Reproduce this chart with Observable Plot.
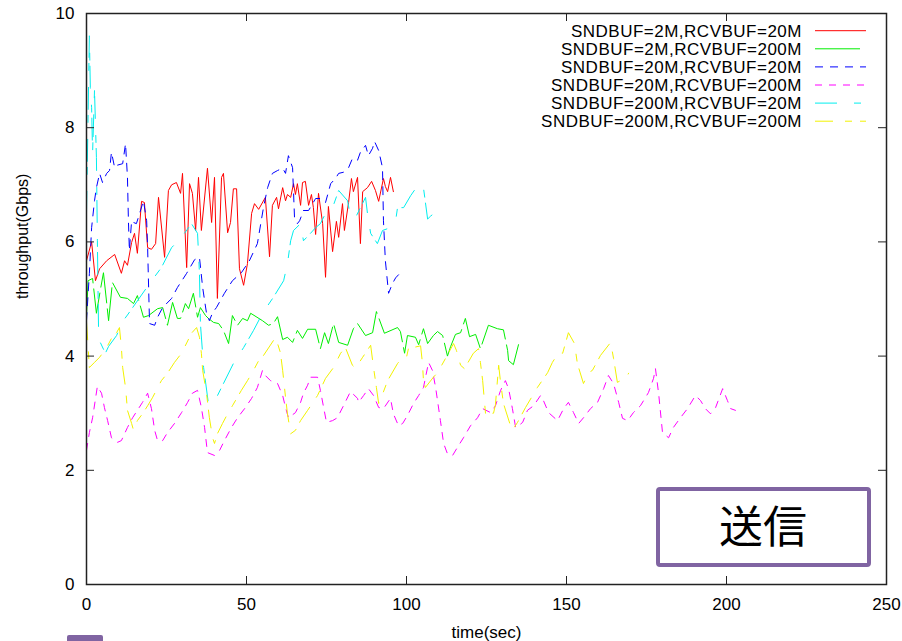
<!DOCTYPE html>
<html><head><meta charset="utf-8">
<script src="https://cdn.jsdelivr.net/npm/d3@7"></script>
<script src="https://cdn.jsdelivr.net/npm/@observablehq/plot@0.6"></script>
<style>
body{margin:0;background:#fff}
#wrap{position:relative;width:902px;height:641px;overflow:hidden;background:#fff}
</style></head><body><div id="wrap"></div>
<script>
const xTicks = [0, 50, 100, 150, 200, 250];
const yTicks = [0, 2, 4, 6, 8, 10];
const seriesNames = [
  "SNDBUF=2M,RCVBUF=20M",
  "SNDBUF=2M,RCVBUF=200M",
  "SNDBUF=20M,RCVBUF=20M",
  "SNDBUF=20M,RCVBUF=200M",
  "SNDBUF=200M,RCVBUF=20M",
  "SNDBUF=200M,RCVBUF=200M"
];
const seriesColors = ["#ff0000", "#00ee00", "#0000ff", "#ff00ff", "#00eeee", "#f2f200"];
const seriesDash = [null, "45,6", "8,7", "7,7", "22,17,7,6", "18,12,7,8"];
const boxLabel = "送信";

// [time(sec), throughput(Gbps)]
const red = [[0,5.67],[1.6,6.0],[2.8,5.32],[4.1,5.53],[6.3,5.67],[8.8,5.78],[10.9,5.45],[11.9,5.67],[12.8,5.59],[14.1,5.99],[15,6.15],[15.9,5.8],[17.2,6.71],[18.1,6.69],[19.1,5.9],[20.3,5.87],[21.6,5.97],[22.5,6.78],[24.4,5.73],[25.6,6.9],[26.6,7.0],[28.1,7.04],[29.4,6.85],[30,7.2],[31.3,5.55],[32.2,7.02],[33.1,6.85],[34.1,6.2],[35,7.13],[35.9,6.2],[37.8,7.29],[39.1,6.34],[40,7.13],[40.9,5.01],[42.2,7.13],[42.8,7.2],[44.1,6.16],[45,6.34],[45.9,6.93],[46.9,6.93],[47.8,5.53],[49.1,5.24],[50.3,5.62],[51.6,6.5],[52.5,6.67],[53.8,6.57],[55.9,6.78],[57.2,5.74],[58.1,6.64],[59.4,6.78],[60,6.58],[61.3,6.95],[62.2,6.72],[62.8,6.83],[63.8,6.78],[64.7,7.02],[65.3,6.83],[65.9,7.02],[66.9,6.64],[67.5,7.04],[68.4,7.06],[69.4,6.64],[70.3,6.83],[70.9,6.6],[71.6,6.13],[72.5,6.85],[73.8,6.32],[74.7,5.38],[75.6,6.62],[76.9,5.83],[78.1,6.36],[78.8,6.08],[80,6.67],[80.6,6.2],[81.9,6.69],[82.8,7.11],[83.4,6.88],[84.7,7.13],[85.6,5.97],[86.3,6.88],[87.8,6.95],[89.1,7.06],[90.3,6.9],[91.3,6.71],[92.8,7.11],[93.4,6.97],[94.1,6.88],[95,7.13],[95.9,6.88]];
const green = [[0,4.7],[0.5,5.32],[1.9,5.36],[3.1,4.75],[4.4,5.18],[5.3,5.46],[6.9,4.62],[8.1,5.29],[10.6,5.03],[12.8,5.01],[14.7,4.92],[15.9,5.06],[17.8,4.68],[19.4,4.71],[22.2,4.83],[23.8,4.85],[25.3,4.54],[26.9,4.94],[28.4,4.66],[29.4,4.66],[30.9,4.92],[31.9,4.83],[33.4,5.1],[34.7,4.68],[35.6,4.85],[37.2,4.71],[38.1,4.66],[39.7,4.59],[41.3,4.57],[42.8,4.45],[44.4,4.22],[45.6,4.71],[47.2,4.54],[48.8,4.66],[50.3,4.62],[51.3,4.75],[55,4.62],[56.9,4.54],[58.4,4.57],[59.7,4.69],[61.3,4.29],[62.8,4.33],[64.4,4.24],[65.9,4.45],[67.5,4.31],[69.1,4.47],[71.6,4.47],[73.1,4.13],[74.4,4.41],[75.6,4.22],[77.2,4.57],[78.8,4.24],[81.6,4.19],[83.4,4.48],[84.7,4.57],[87.2,4.36],[89.4,4.41],[90.6,4.78],[93.1,4.4],[97.2,4.5],[98.1,4.43],[99.4,4.05],[100.3,4.36],[102.8,4.33],[103.8,4.2],[105.3,4.48],[106.6,4.22],[108.4,4.36],[109.7,4.43],[111.3,4.36],[112.8,4.0],[113.8,4.17],[115.3,4.38],[116.9,4.41],[118.4,4.66],[119.7,4.34],[121.6,4.38],[123.1,4.13],[125.6,4.54],[128.4,4.48],[130.3,4.46],[131.6,4.1],[131.9,3.92],[133.4,3.85],[135,4.2]];
const blue = [[0,4.62],[0.9,5.45],[1.6,6.25],[2.5,6.72],[3.1,6.95],[4.1,7.2],[5,7.04],[6.3,7.2],[7.2,7.25],[7.8,7.57],[8.8,7.3],[9.4,7.34],[11.3,7.37],[12.2,7.72],[12.8,7.13],[13.1,6.37],[13.4,5.85],[14.1,6.37],[14.7,6.34],[15.6,6.32],[16.6,6.5],[17.8,6.72],[18.8,6.37],[19.1,5.9],[19.7,4.57],[21.3,4.54],[22.2,4.68],[23.8,4.85],[26.6,5.01],[28.4,5.2],[31.3,5.45],[33.8,5.69],[35.3,5.73],[36.3,5.2],[37.5,4.75],[38.4,4.62],[39.4,4.76],[40.6,4.85],[43.1,5.1],[45.6,5.32],[48.4,5.46],[50.9,5.67],[53.4,5.97],[55.3,6.6],[56.6,6.95],[58.1,7.2],[59.7,7.25],[61.3,7.29],[62.2,7.2],[63.1,7.51],[64.4,7.3],[65,6.43],[65.9,6.32],[66.6,6.37],[67.8,6.55],[69.4,6.55],[71.6,6.76],[73.1,6.76],[74.7,6.69],[76.3,7.02],[77.8,7.11],[78.8,7.2],[80.3,7.22],[81.9,7.3],[83.1,7.46],[84.7,7.43],[85.6,7.57],[87.2,7.69],[88.1,7.51],[89.4,7.64],[90,7.76],[91.3,7.6],[92.5,7.3],[92.8,6.37],[93.4,5.67],[94.4,5.1],[95.6,5.27],[96.6,5.37],[98.1,5.46]];
const magenta = [[0,2.35],[0.9,2.66],[1.9,2.92],[3.4,3.47],[4.7,3.35],[5.6,3.1],[6.6,2.87],[7.8,2.57],[9.7,2.49],[10.9,2.52],[12.8,2.75],[14.4,2.92],[15.9,3.05],[17.5,3.19],[19.1,3.35],[20.3,3.08],[21.3,2.7],[22.2,2.52],[23.8,2.52],[25.3,2.66],[27.5,2.82],[29.7,3.01],[31.6,3.19],[33.1,3.35],[34.7,3.4],[35.9,3.1],[36.9,2.75],[37.8,2.31],[40,2.26],[41.6,2.35],[43.1,2.52],[45.3,2.75],[47.2,2.92],[49.4,3.08],[51.6,3.26],[53.4,3.45],[55,3.75],[55.9,3.66],[57.5,3.57],[59.7,3.52],[61.3,3.31],[62.2,3.1],[63.1,2.92],[65.3,3.01],[66.9,3.19],[67.8,3.35],[69.1,3.49],[70,3.63],[72.2,3.63],[73.1,3.4],[74.1,3.1],[75,2.84],[76.9,2.87],[78.4,2.92],[80.3,3.13],[82.5,3.38],[84.7,3.26],[85,3.19],[86.6,3.31],[88.1,3.43],[89.7,3.31],[91.3,3.1],[92.8,3.08],[95,3.26],[95.9,2.99],[97.5,2.78],[98.8,2.82],[100.3,2.96],[102.2,3.17],[103.8,3.31],[105.3,3.45],[106.9,3.89],[108.1,3.75],[109.1,3.45],[110.6,2.87],[111.6,2.47],[112.8,2.29],[114.4,2.26],[115.9,2.4],[117.8,2.57],[120,2.78],[122.2,2.92],[123.8,3.08],[126.3,3.01],[127.8,3.13],[129.4,3.4],[130.9,3.57],[131.9,3.43],[133.1,3.08],[134.1,2.75],[135,2.78],[136.3,2.84],[137.8,3.05],[139.7,3.13],[141.9,3.31],[142.8,3.22],[144.4,3.01],[147.2,2.87],[149.1,3.08],[150.6,3.19],[152.2,3.01],[153.8,2.82],[155.3,2.92],[157.5,3.08],[159.7,3.19],[161.6,3.43],[163.1,3.66],[164.7,3.52],[166.3,3.19],[167.5,2.91],[169.1,2.87],[170.9,3.01],[173.1,3.13],[175.6,3.36],[177.2,3.61],[177.8,3.78],[178.8,3.34],[180,2.66],[181.9,2.57],[183.4,2.75],[185.6,2.92],[187.8,3.08],[190.3,3.31],[191.9,3.22],[193.4,3.08],[195,2.99],[196.6,3.1],[198.8,3.43],[200.3,3.22],[201.3,3.08],[202.8,3.05]];
const cyan = [[0,6.5],[0.9,9.61],[1.2,8.7],[1.6,8.35],[1.9,7.55],[2.5,8.65],[3.1,7.48],[3.4,6.02],[3.8,4.3],[5.9,4.05],[6.9,4.17],[9.4,4.36],[10.3,4.48],[12,4.66],[12.8,4.72],[19.7,5.27],[23.4,5.55],[26.6,5.9],[29.7,6.08],[32.8,6.32],[34.7,6.15],[35.3,5.45],[35.6,4.57],[36.6,3.8],[38.1,3.17],[39.7,3.17],[42.8,3.52],[45.9,3.87],[49.1,4.15],[52.2,4.45],[55,4.75],[58.4,5.03],[61.6,5.32],[62.8,5.62],[63.8,6.02],[64.7,6.2],[66.9,6.32],[67.8,6.02],[70,6.15],[71.6,6.25],[73.1,6.32],[74.7,6.5],[76.9,6.6],[78.8,6.9],[81.6,6.72],[82.5,6.43],[84.1,6.43],[87.2,6.78],[87.8,6.5],[88.8,6.15],[90.9,5.97],[92.5,6.2],[95,6.25],[96.6,6.37],[97.2,6.6],[99.1,6.6],[101.3,6.81],[102.8,6.93],[104.4,6.86],[105.3,6.95],[106.6,6.4],[107.5,6.45],[109.7,6.55]];
const yellow = [[0,4.6],[0.9,3.8],[2.5,3.89],[4.1,3.98],[6.3,4.15],[7.8,4.31],[9.4,4.41],[10.3,4.5],[10.9,4.15],[11.3,3.8],[12.2,3.45],[12.8,3.05],[14.1,2.82],[14.7,2.7],[15.9,2.87],[17.5,2.99],[19.1,3.13],[20.6,3.27],[23.4,3.57],[25.3,3.7],[27.5,3.89],[29.7,4.05],[30.6,4.15],[32.8,4.4],[34.4,4.5],[35.3,4.33],[35.9,4.05],[36.3,3.75],[37.5,3.35],[38.4,2.92],[39.4,2.57],[40,2.47],[40.9,2.64],[42.5,2.82],[44.1,2.99],[45.6,3.13],[48.4,3.4],[50.3,3.57],[51.9,3.72],[53.8,3.92],[55.3,4.01],[59.1,4.33],[60.6,4.06],[61.3,3.75],[62.2,3.28],[62.8,2.99],[63.8,2.64],[65.3,2.7],[66.9,2.87],[69.1,3.05],[72.2,3.31],[74.7,3.61],[77.2,3.8],[79.4,4.05],[80.9,4.15],[83.1,3.84],[84.1,3.79],[86.3,3.98],[88.8,4.19],[89.7,3.8],[90.6,3.45],[91.3,3.17],[92.5,3.33],[94.1,3.57],[97.2,3.87],[98.8,3.98],[100,3.98],[100.6,4.13],[104.4,4.18],[105,3.87],[105.3,3.57],[105.9,3.45],[108.4,3.63],[109.7,3.71],[113.1,4.05],[114.7,4.22],[115.6,4.1],[116.9,3.84],[118.1,3.78],[120.9,4.05],[122.5,4.13],[123.1,3.89],[123.8,3.57],[124.7,2.99],[127.2,3.0],[127.8,3.15],[128.8,3.84],[129.4,3.54],[130.3,3.17],[132.5,2.78],[133.1,2.7],[134.7,2.84],[137.2,3.1],[140.9,3.45],[144.1,3.71],[145.6,3.89],[147.5,4.06],[148.8,4.05],[150.6,4.41],[152.5,4.22],[153.4,3.87],[155.3,3.52],[156.9,3.71],[158.1,3.75],[160.6,4.01],[163.8,4.24],[164.7,3.96],[165.9,3.54],[168.8,3.63],[169.4,3.7]];

const allSeries = [red, green, blue, magenta, cyan, yellow];

const W = 902, H = 641, ML = 86, MR = 16, MT = 13, MB = 57;
const FW = W - ML - MR, FH = H - MT - MB, TICK = 8;

const lineMarks = allSeries.map((arr, i) =>
  Plot.line(arr, {x: d => d[0], y: d => d[1], stroke: seriesColors[i], strokeWidth: 1,
    strokeDasharray: seriesDash[i] || undefined})
);

const chart = Plot.plot({
  width: W, height: H,
  marginLeft: ML, marginRight: MR, marginTop: MT, marginBottom: MB,
  x: {domain: [0, 250]},
  y: {domain: [0, 10]},
  style: {fontFamily: "'Liberation Sans', Arial, sans-serif", fontSize: "17px", background: "#fff", color: "#000"},
  marks: [
    ...lineMarks,
    Plot.tickX(xTicks, {x: d => d, insetTop: FH - TICK, stroke: "#222"}),
    Plot.tickX(xTicks, {x: d => d, insetBottom: FH - TICK, stroke: "#222"}),
    Plot.tickY(yTicks, {y: d => d, insetRight: FW - TICK, stroke: "#222"}),
    Plot.tickY(yTicks, {y: d => d, insetLeft: FW - TICK, stroke: "#222"}),
    Plot.frame({stroke: "#222", strokeWidth: 1.5}),
    Plot.axisX({ticks: xTicks, tickSize: 0, tickPadding: 13, label: null, fontSize: 17}),
    Plot.axisY({ticks: yTicks, tickSize: 0, tickPadding: 12, label: null, fontSize: 17}),
    Plot.text(["time(sec)"], {frameAnchor: "bottom", dy: 48, lineAnchor: "middle", fontSize: 17}),
    Plot.text(["throughput(Gbps)"], {frameAnchor: "left", dx: -64, rotate: -90, fontSize: 16})
  ]
});
document.getElementById("wrap").appendChild(chart);

// Legend (inside plot, top-right)
const svg = d3.select(chart);
const rowY0 = MT + 17.7, rowStep = 18.1;
const leg = svg.append("g");
seriesNames.forEach((name, i) => {
  const y = rowY0 + i * rowStep;
  leg.append("text")
    .attr("x", 802).attr("y", y).attr("dy", "0.36em")
    .attr("text-anchor", "end")
    .attr("font-family", "'Liberation Sans', Arial, sans-serif")
    .attr("font-size", 17).style("letter-spacing", "0.5px")
    .attr("fill", "#000").text(name);
  leg.append("line")
    .attr("x1", 815).attr("x2", 866).attr("y1", y).attr("y2", y)
    .attr("stroke", seriesColors[i]).attr("stroke-width", 1)
    .attr("stroke-dasharray", seriesDash[i]);
});

// 送信 box
const box = svg.append("g");
box.append("rect").attr("x", 658).attr("y", 489).attr("width", 211).attr("height", 76)
  .attr("rx", 2).attr("fill", "#fff").attr("stroke", "#8064a2").attr("stroke-width", 4);
box.append("text").attr("x", 763).attr("y", 527).attr("text-anchor", "middle")
  .attr("dy", "0.36em").attr("font-size", 44)
  .attr("font-family", "'Noto Sans CJK JP', sans-serif").attr("fill", "#000").text(boxLabel);
// partial purple shape at bottom-left
svg.append("rect").attr("x", 67).attr("y", 635).attr("width", 36).attr("height", 12)
  .attr("rx", 2).attr("fill", "#8064a2");
</script></body></html>
